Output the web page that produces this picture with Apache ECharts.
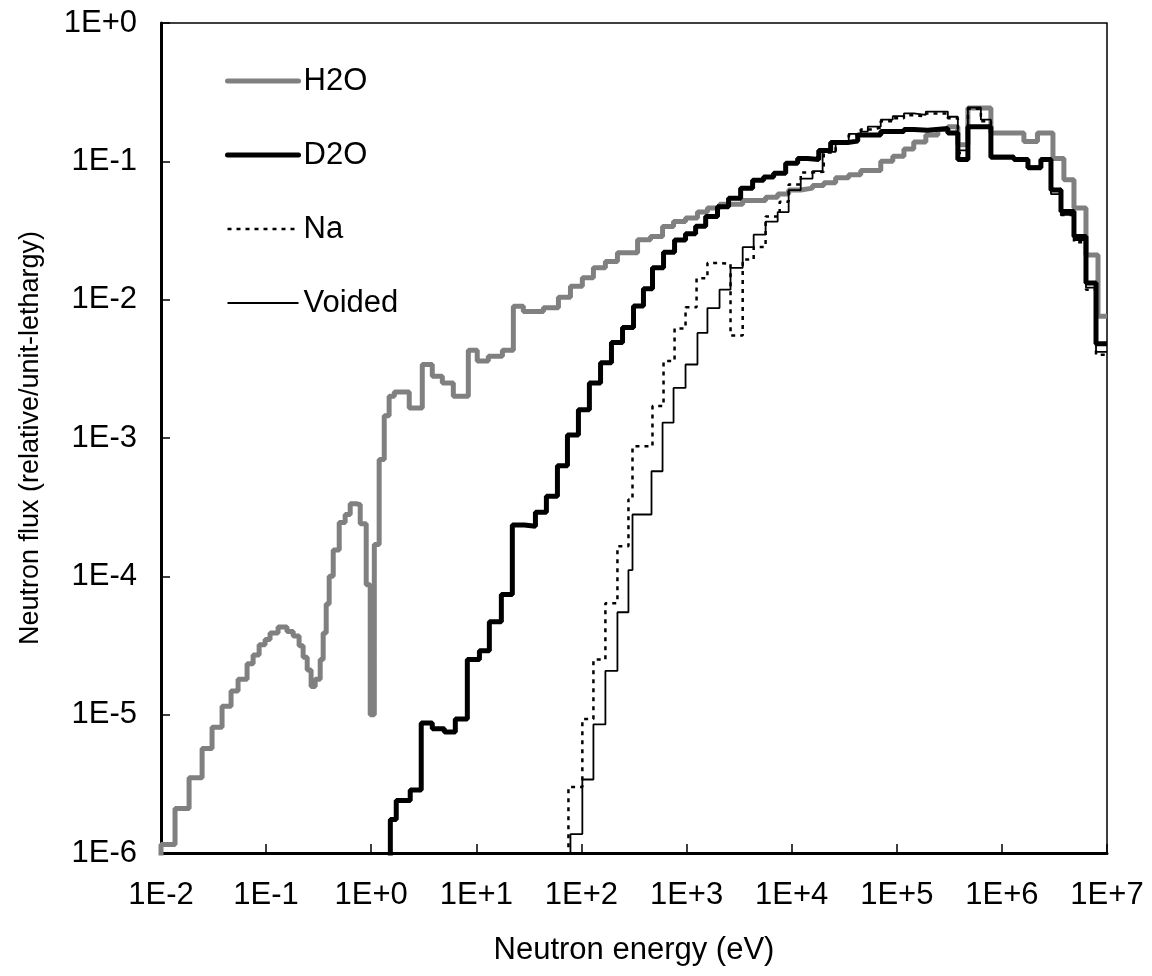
<!DOCTYPE html>
<html>
<head>
<meta charset="utf-8">
<script src="https://cdn.jsdelivr.net/npm/echarts@6/dist/echarts.min.js"></script>
<style>
  html, body { margin: 0; padding: 0; background: #fff; }
  #chart { width: 1152px; height: 976px; }
</style>
</head>
<body>
<div id="chart"></div>
<script>
// bin edges (eV) and flux per bin (relative/unit-lethargy)
var h2oE = [0.01, 0.0136, 0.0185, 0.0246, 0.0306, 0.0381, 0.0464, 0.0541, 0.0659, 0.0752,
    0.0858, 0.0978, 0.109, 0.130, 0.158, 0.181, 0.206, 0.225, 0.246, 0.268,
    0.293, 0.327, 0.349, 0.373, 0.398, 0.435, 0.496, 0.565, 0.631, 0.720,
    0.786, 0.896, 0.978, 1.07, 1.19, 1.33, 1.48, 1.66, 2.30, 3.06,
    3.81, 4.75, 6.04, 8.39, 10.2, 13.0, 17.7, 22.5, 28.0, 43.5,
    60.4, 78.6, 102, 130, 169, 220, 342, 454, 591, 752,
    978, 1270, 1580, 2060, 3420, 5650, 7360, 9360, 1.22e4, 1.58e4,
    2.02e4, 2.62e4, 3.49e4, 4.54e4, 7.04e4, 9.16e4, 1.17e5, 1.45e5, 1.89e5, 2.46e5,
    3.06e5, 3.81e5, 4.75e5, 7.86e5, 1.62e6, 2.18e6, 3.06e6, 3.89e6, 4.85e6, 6.31e6,
    8.21e6, 1e7];
var h2oF = [1.15e-6, 2.1e-6, 3.5e-6, 5.7e-6, 8.1e-6, 1.15e-5, 1.48e-5, 1.8e-5, 2.33e-5, 2.7e-5,
    3.2e-5, 3.5e-5, 3.9e-5, 4.3e-5, 4.0e-5, 3.7e-5, 3.15e-5, 2.6e-5, 2.1e-5, 1.6e-5,
    1.8e-5, 2.5e-5, 3.9e-5, 6.3e-5, 1.0e-4, 1.55e-4, 2.45e-4, 2.8e-4, 3.35e-4, 3.3e-4,
    2.4e-4, 8.7e-5, 1.0e-5, 1.7e-4, 7.0e-4, 1.45e-3, 2.0e-3, 2.15e-3, 1.65e-3, 3.4e-3,
    2.8e-3, 2.5e-3, 2.0e-3, 4.3e-3, 3.6e-3, 3.9e-3, 4.3e-3, 8.95e-3, 8.2e-3, 8.75e-3,
    1.04e-2, 1.25e-2, 1.44e-2, 1.7e-2, 1.89e-2, 2.18e-2, 2.71e-2, 2.86e-2, 3.38e-2, 3.67e-2,
    3.9e-2, 4.3e-2, 4.6e-2, 4.9e-2, 5.2e-2, 5.5e-2, 5.8e-2, 6.2e-2, 6.4e-2, 6.7e-2,
    7.0e-2, 7.6e-2, 8.0e-2, 8.6e-2, 0.1, 0.109, 0.123, 0.138, 0.155, 0.17,
    0.178, 0.132, 0.243, 0.16, 0.139, 0.16, 0.105, 0.0735, 0.046, 0.021,
    0.0076];

var d2oE = [1.52, 1.73, 2.35, 2.99, 3.81, 4.96, 6.31, 8.21, 10.7, 13.3,
    17.3, 22.0, 28.7, 36.5, 46.4, 59.1, 73.6, 93.6, 119, 152,
    193, 246, 313, 389, 474, 604, 769, 978, 1220, 1520,
    1970, 2510, 3270, 4250, 5410, 6740, 8770, 1.14e4, 1.42e4, 1.81e4,
    2.35e4, 3.41e4, 4.25e4, 7.04e4, 1.17e5, 1.45e5, 1.97e5, 3.06e5, 3.81e5, 4.75e5,
    7.86e5, 1.30e6, 1.77e6, 2.35e6, 2.93e6, 3.65e6, 4.85e6, 6.31e6, 7.86e6, 1e7];
var d2oF = [1.75e-6, 2.4e-6, 2.85e-6, 8.7e-6, 7.9e-6, 7.5e-6, 9.3e-6, 2.5e-5, 2.9e-5, 4.7e-5,
    7.4e-5, 2.35e-4, 2.3e-4, 2.9e-4, 3.8e-4, 6.3e-4, 1.05e-3, 1.6e-3, 2.5e-3, 3.5e-3,
    4.9e-3, 6.3e-3, 9.0e-3, 1.2e-2, 1.7e-2, 2.2e-2, 2.7e-2, 3.0e-2, 3.4e-2, 4.0e-2,
    4.7e-2, 5.4e-2, 6.4e-2, 7.3e-2, 7.7e-2, 8.2e-2, 9.7e-2, 0.105, 0.103, 0.12,
    0.137, 0.14, 0.155, 0.164, 0.17, 0.168, 0.173, 0.16, 0.103, 0.178,
    0.107, 0.103, 0.09, 0.103, 0.062, 0.0434, 0.0286, 0.0132, 0.0048];

var naE = [75.2, 102, 130, 169, 220, 280, 306, 474, 604, 769,
    978, 1245, 1580, 2060, 2620, 3420, 4350, 5650, 7690, 9360,
    1.22e4, 1.58e4, 2.02e4, 2.62e4, 3.49e4, 4.54e4, 5.65e4, 7.04e4, 9.16e4, 1.17e5,
    1.45e5, 1.89e5, 3.06e5, 3.81e5, 4.75e5, 6.31e5, 7.86e5, 1.30e6, 1.77e6, 2.35e6,
    2.93e6, 3.65e6, 4.85e6, 6.31e6, 7.86e6, 1e7];
var naF = [3.0e-6, 9.3e-6, 2.5e-5, 6.4e-5, 1.65e-4, 3.6e-4, 8.7e-4, 1.7e-3, 3.6e-3, 6.2e-3,
    8.8e-3, 1.43e-2, 1.84e-2, 1.82e-2, 5.5e-3, 1.95e-2, 2.4e-2, 4.0e-2, 5.1e-2, 6.8e-2,
    8.3e-2, 8.4e-2, 0.116, 0.135, 0.155, 0.17, 0.175, 0.195, 0.205, 0.215,
    0.212, 0.222, 0.205, 0.115, 0.24, 0.195, 0.108, 0.104, 0.091, 0.104,
    0.063, 0.041, 0.026, 0.0118, 0.004];

var voidE = [78.6, 102, 130, 169, 220, 280, 306, 464, 591, 752,
    978, 1270, 1580, 2060, 2620, 3420, 4350, 5650, 7360, 9360,
    1.22e4, 1.58e4, 1.97e4, 2.62e4, 3.49e4, 4.54e4, 5.30e4, 7.04e4, 9.16e4, 1.17e5,
    1.45e5, 1.89e5, 3.06e5, 3.81e5, 4.75e5, 6.31e5, 7.86e5, 1.30e6, 1.77e6, 2.35e6,
    2.93e6, 3.65e6, 4.85e6, 6.31e6, 7.86e6, 1e7];
var voidF = [1.37e-6, 3.4e-6, 8.5e-6, 2.07e-5, 5.5e-5, 1.11e-4, 2.8e-4, 5.75e-4, 1.29e-3, 2.3e-3,
    3.4e-3, 5.75e-3, 8.7e-3, 1.18e-2, 1.7e-2, 2.4e-2, 2.95e-2, 3.67e-2, 4.3e-2, 6.2e-2,
    7.5e-2, 8.5e-2, 0.117, 0.14, 0.158, 0.164, 0.178, 0.2, 0.212, 0.222,
    0.217, 0.229, 0.21, 0.12, 0.245, 0.2, 0.11, 0.105, 0.092, 0.105,
    0.058, 0.041, 0.027, 0.0122, 0.0042];

var floorFlux = 1e-7; // below the axis, so each curve rises out of the bottom edge

function histogram(edges, flux) {
    var pts = [[edges[0], floorFlux]];
    for (var i = 0; i < edges.length; i++) {
        pts.push([edges[i], flux[Math.min(i, flux.length - 1)]]);
    }
    return pts;
}

function expLabel(v) {
    var p = Math.round(Math.log10(v));
    return '1E' + (p < 0 ? '-' : '+') + Math.abs(p);
}

var font = 'Liberation Sans, Arial, sans-serif';

var h2oLine = { color: '#808080', width: 5 };
var d2oLine = { color: '#000', width: 5 };
var naLine = { color: '#000', width: 2.5, type: [4, 5] };
var voidLine = { color: '#000', width: 1.8 };

var myChart = echarts.init(document.getElementById('chart'));
var option = {
    backgroundColor: '#fff',
    textStyle: { fontFamily: font },
    grid: {
        left: 161, right: 45, top: 23, bottom: 123,
        show: true, borderColor: '#000', borderWidth: 1.5
    },
    legend: {
        orient: 'vertical',
        left: 220, top: 60,
        itemWidth: 71, itemHeight: 2, itemGap: 42,
        itemStyle: { opacity: 0 },
        textStyle: { fontSize: 31, lineHeight: 32, color: '#000', fontFamily: font },
        data: [
            { name: 'H2O', lineStyle: { width: 5, cap: 'round' } },
            { name: 'D2O', lineStyle: { width: 5, cap: 'round' } },
            { name: 'Na', lineStyle: { width: 2.5 } },
            { name: 'Voided', lineStyle: { width: 1.8 } }
        ]
    },
    xAxis: {
        type: 'log', logBase: 10,
        min: 0.01, max: 1e7, interval: 1, splitNumber: 9,
        name: 'Neutron energy (eV)',
        nameLocation: 'middle', nameGap: 82,
        nameTextStyle: { fontSize: 31, color: '#000', fontFamily: font },
        axisLine: { lineStyle: { color: '#000', width: 3 } },
        axisTick: { inside: true, length: 9, lineStyle: { color: '#000', width: 1.5 } },
        axisLabel: { formatter: expLabel, fontSize: 31, color: '#000', margin: 27, fontFamily: font },
        splitLine: { show: false }
    },
    yAxis: {
        type: 'log', logBase: 10,
        min: 1e-6, max: 1, interval: 1, splitNumber: 6,
        name: 'Neutron flux (relative/unit-lethargy)',
        nameLocation: 'middle', nameGap: 117,
        nameTextStyle: { fontSize: 27, color: '#000', fontFamily: font },
        axisLine: { lineStyle: { color: '#000', width: 3 } },
        axisTick: { inside: true, length: 9, lineStyle: { color: '#000', width: 1.5 } },
        axisLabel: { formatter: expLabel, fontSize: 31, color: '#000', margin: 24, fontFamily: font },
        splitLine: { show: false }
    },
    series: [{
            name: 'H2O',
            type: 'line',
            step: 'end',
            symbol: 'none',
            clip: true,
            lineStyle: h2oLine,
            itemStyle: { color: '#808080' },
            data: histogram(h2oE, h2oF)
        },
        {
            name: 'D2O',
            type: 'line',
            step: 'end',
            symbol: 'none',
            clip: true,
            lineStyle: d2oLine,
            itemStyle: { color: '#000' },
            data: histogram(d2oE, d2oF)
        },
        {
            name: 'Na',
            type: 'line',
            step: 'end',
            symbol: 'none',
            clip: true,
            lineStyle: naLine,
            itemStyle: { color: '#000' },
            data: histogram(naE, naF)
        },
        {
            name: 'Voided',
            type: 'line',
            step: 'end',
            symbol: 'none',
            clip: true,
            lineStyle: voidLine,
            itemStyle: { color: '#000' },
            data: histogram(voidE, voidF)
        }
    ]
};
myChart.setOption(option);
</script>
</body>
</html>
